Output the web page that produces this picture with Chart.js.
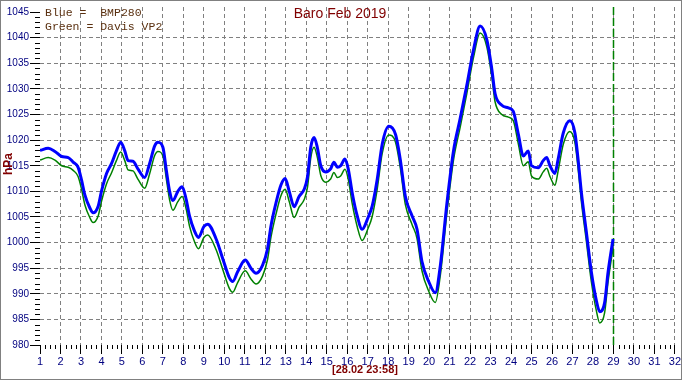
<!DOCTYPE html>
<html>
<head>
<meta charset="utf-8">
<title>Baro Feb 2019</title>
<script src="https://cdn.jsdelivr.net/npm/chart.js@4.4.1/dist/chart.umd.min.js"></script>
<style>
  html, body { margin: 0; padding: 0; background: #fff; }
  #baro { display: block; }
</style>
</head>
<body>
<canvas id="baro" width="682" height="380"></canvas>
<script>
// time in days (1 = 01.02 00:00)
const days = [
  1.00, 1.40, 1.73, 2.06, 2.38, 2.62, 2.86, 3.03, 3.19, 3.43, 3.59, 3.84,
  4.00, 4.25, 4.49, 4.73, 4.94, 5.14, 5.30, 5.54, 5.78, 6.11, 6.35, 6.60,
  6.76, 7.00, 7.17, 7.33, 7.49, 7.73, 7.94, 8.14, 8.30, 8.54, 8.74, 9.00,
  9.19, 9.60, 9.92, 10.25, 10.41, 10.65, 11.02, 11.30, 11.55, 11.87, 12.11, 12.28,
  12.52, 12.76, 12.97, 13.17, 13.41, 13.65, 13.90, 14.06, 14.22, 14.38, 14.54, 14.71,
  14.95, 15.19, 15.35, 15.52, 15.68, 15.89, 16.05, 16.25, 16.49, 16.73, 17.02, 17.22,
  17.46, 17.71, 18.03, 18.36, 18.60, 18.84, 19.17, 19.41, 19.65, 19.98, 20.30, 20.55,
  20.87, 21.19, 21.52, 21.84, 22.17, 22.49, 22.82, 23.06, 23.22, 23.55, 23.87, 24.11,
  24.36, 24.60, 24.84, 25.00, 25.33, 25.57, 25.74, 25.90, 26.14, 26.30, 26.55, 26.87,
  27.12, 27.28, 27.44, 27.68, 27.92, 28.17, 28.33, 28.57, 28.74, 28.98
];

// Blue = BMP280
const bmp280 = [
  1018.0, 1018.4, 1017.8, 1016.8, 1016.6, 1015.7, 1014.7, 1012.2, 1009.3, 1006.8, 1005.8, 1007.1,
  1010.0, 1013.5, 1015.4, 1017.9, 1019.6, 1017.9, 1016.0, 1015.9, 1014.4, 1012.7, 1015.4, 1018.9,
  1019.6, 1018.6, 1014.1, 1010.0, 1008.2, 1010.0, 1010.9, 1008.4, 1005.2, 1002.3, 1001.0, 1003.1,
  1003.6, 1000.7, 996.9, 993.1, 992.4, 994.3, 996.6, 995.0, 994.0, 995.6, 998.8, 1003.3,
  1007.7, 1011.2, 1012.5, 1010.0, 1007.0, 1009.0, 1010.4, 1012.8, 1018.6, 1020.5, 1018.6, 1015.0,
  1013.8, 1014.4, 1015.7, 1014.7, 1015.0, 1016.3, 1014.4, 1009.6, 1005.2, 1002.6, 1004.9, 1007.1,
  1012.2, 1019.2, 1022.7, 1021.1, 1016.0, 1009.0, 1005.2, 1002.6, 996.3, 992.4, 990.2, 995.6,
  1007.7, 1017.9, 1024.3, 1030.7, 1037.7, 1042.3, 1039.6, 1033.9, 1029.1, 1026.8, 1026.3, 1025.6,
  1021.1, 1016.9, 1017.9, 1015.0, 1014.6, 1016.0, 1016.6, 1015.0, 1013.5, 1016.3, 1021.4, 1023.8,
  1021.4, 1016.0, 1009.6, 1002.0, 994.3, 988.6, 986.5, 988.3, 994.3, 1000.7
];

// Green = Davis VP2
const davisVP2 = [
  1016.1, 1016.6, 1016.1, 1015.0, 1014.7, 1014.1, 1012.9, 1010.4, 1007.4, 1004.9, 1003.9, 1005.2,
  1008.0, 1011.5, 1013.6, 1016.0, 1017.7, 1016.0, 1014.2, 1014.0, 1012.4, 1010.6, 1013.4, 1017.0,
  1017.8, 1016.9, 1012.4, 1008.3, 1006.3, 1008.0, 1009.0, 1006.5, 1003.2, 1000.2, 998.8, 1001.0,
  1001.5, 998.6, 994.8, 991.0, 990.3, 992.2, 994.5, 992.9, 991.9, 993.5, 996.7, 1001.1,
  1005.5, 1009.1, 1010.4, 1008.0, 1004.9, 1006.9, 1008.4, 1010.8, 1016.5, 1018.6, 1016.7, 1013.1,
  1011.8, 1012.4, 1013.7, 1012.7, 1013.0, 1014.3, 1012.4, 1007.5, 1003.1, 1000.4, 1002.8, 1005.1,
  1010.3, 1017.4, 1021.0, 1019.6, 1014.4, 1007.4, 1003.5, 1000.8, 994.5, 990.5, 988.3, 993.7,
  1005.8, 1016.1, 1022.6, 1029.1, 1036.2, 1040.9, 1038.2, 1032.4, 1027.5, 1025.0, 1024.5, 1023.8,
  1019.2, 1015.0, 1015.8, 1013.0, 1012.4, 1013.8, 1014.5, 1012.9, 1011.2, 1014.0, 1019.2, 1021.7,
  1019.5, 1014.2, 1007.8, 1000.2, 992.4, 986.6, 984.3, 986.3, 992.4, 999.0
];

const xMin = 1, xMax = 32;
const yMin = 980, yMax = 1046;
const yTicks = [980, 985, 990, 995, 1000, 1005, 1010, 1015, 1020, 1025, 1030, 1035, 1040, 1045];
const nowDay = 29;   // 28.02 23:58

const navy = '#000080';
const darkRed = '#800000';
const gridGrey = '#808080';
const narrowFont = "'Liberation Sans Narrow', 'Arial Narrow', Arial, sans-serif";

// extra drawing: minor ticks, texts, frame, "now" marker
const decorPlugin = {
  id: 'decor',
  beforeDatasetsDraw(chart) {
    const ctx = chart.ctx;
    const xs = chart.scales.x;
    const area = chart.chartArea;
    const px = Math.round(xs.getPixelForValue(nowDay)) + 0.5;
    ctx.save();
    ctx.strokeStyle = '#008000';
    ctx.lineWidth = 1.5;
    ctx.setLineDash([8, 3]);
    ctx.beginPath();
    ctx.moveTo(px, area.top);
    ctx.lineTo(px, area.bottom);
    ctx.stroke();
    ctx.restore();
  },
  afterDraw(chart) {
    const ctx = chart.ctx;
    const xs = chart.scales.x;
    const ys = chart.scales.y;
    const area = chart.chartArea;
    ctx.save();

    // minor ticks
    ctx.strokeStyle = '#000';
    ctx.lineWidth = 1;
    ctx.beginPath();
    for (let v = yMin; v <= 1045; v++) {
      if (v % 5 === 0) continue;
      const y = Math.round(ys.getPixelForValue(v)) + 0.5;
      ctx.moveTo(area.left - 5, y);
      ctx.lineTo(area.left, y);
    }
    for (let d = xMin; d < xMax; d += 0.25) {
      if (Number.isInteger(d)) continue;
      const x = Math.round(xs.getPixelForValue(d)) + 0.5;
      ctx.moveTo(x, area.bottom);
      ctx.lineTo(x, area.bottom + 4);
    }
    ctx.stroke();

    // title
    ctx.fillStyle = darkRed;
    ctx.font = "14px " + narrowFont;
    ctx.textAlign = 'center';
    ctx.textBaseline = 'middle';
    ctx.fillText('Baro Feb 2019', 340, 14);

    // legend text
    ctx.fillStyle = '#5a3010';
    ctx.font = "11.5px 'Liberation Mono', 'Courier New', monospace";
    ctx.textAlign = 'left';
    ctx.textBaseline = 'alphabetic';
    ctx.fillText('Blue =  BMP280', 45, 16);
    ctx.fillText('Green = Davis VP2', 45, 30);

    // y unit
    ctx.save();
    ctx.translate(9, 164);
    ctx.rotate(-Math.PI / 2);
    ctx.fillStyle = darkRed;
    ctx.font = "bold 12px Arial, 'Liberation Sans', sans-serif";
    ctx.textAlign = 'center';
    ctx.textBaseline = 'middle';
    ctx.fillText('hPa', 0, 0);
    ctx.restore();

    // time stamp
    ctx.fillStyle = darkRed;
    ctx.font = "bold 11px Arial, 'Liberation Sans', sans-serif";
    ctx.textAlign = 'center';
    ctx.textBaseline = 'middle';
    ctx.fillText('[28.02 23:58]', 365, 370);

    // frame
    ctx.strokeStyle = '#808080';
    ctx.lineWidth = 1;
    ctx.strokeRect(0.5, 0.5, chart.width - 1, chart.height - 1);
    ctx.restore();
  }
};

const ctx = document.getElementById('baro');

new Chart(ctx, {
  type: 'line',
  data: {
    datasets: [{
      label: 'BMP280',
      data: days.map((d, i) => ({ x: d, y: bmp280[i] })),
      borderColor: '#0000ff',
      borderWidth: 3,
      pointRadius: 0,
      cubicInterpolationMode: 'monotone',
      fill: false
    }, {
      label: 'Davis VP2',
      data: days.map((d, i) => ({ x: d, y: davisVP2[i] })),
      borderColor: '#008000',
      borderWidth: 1.5,
      pointRadius: 0,
      cubicInterpolationMode: 'monotone',
      fill: false
    }]
  },
  options: {
    responsive: false,
    animation: false,
    layout: { padding: { left: 0, right: 4, top: 0, bottom: 0 } },
    plugins: {
      legend: { display: false },
      tooltip: { enabled: false },
      title: { display: false }
    },
    scales: {
      x: {
        type: 'linear',
        min: xMin,
        max: xMax,
        afterFit: s => { s.height = 35; },
        ticks: {
          stepSize: 1,
          autoSkip: false,
          maxRotation: 0,
          padding: 1,
          color: navy,
          font: { family: narrowFont, size: 11 },
          callback: v => String(v)
        },
        grid: {
          color: c => (c.tick && c.tick.value === xMin) ? 'rgba(0,0,0,0)' : gridGrey,
          lineWidth: 1,
          tickLength: 9,
          tickColor: '#000'
        },
        border: { display: false, dash: [4, 3] }
      },
      y: {
        min: yMin,
        max: yMax,
        afterFit: s => { s.width = 40; },
        afterBuildTicks: s => { s.ticks = yTicks.map(v => ({ value: v })); },
        ticks: {
          stepSize: 5,
          includeBounds: false,
          padding: 1,
          color: navy,
          font: { family: narrowFont, size: 10 },
          callback: v => String(v)
        },
        grid: {
          color: c => (c.tick && (c.tick.value === yMin || c.tick.value === 1045)) ? 'rgba(0,0,0,0)' : gridGrey,
          lineWidth: 1,
          tickLength: 10,
          tickColor: '#000'
        },
        border: { display: false, dash: [4, 3] }
      }
    }
  },
  plugins: [decorPlugin]
});
</script>
</body>
</html>
